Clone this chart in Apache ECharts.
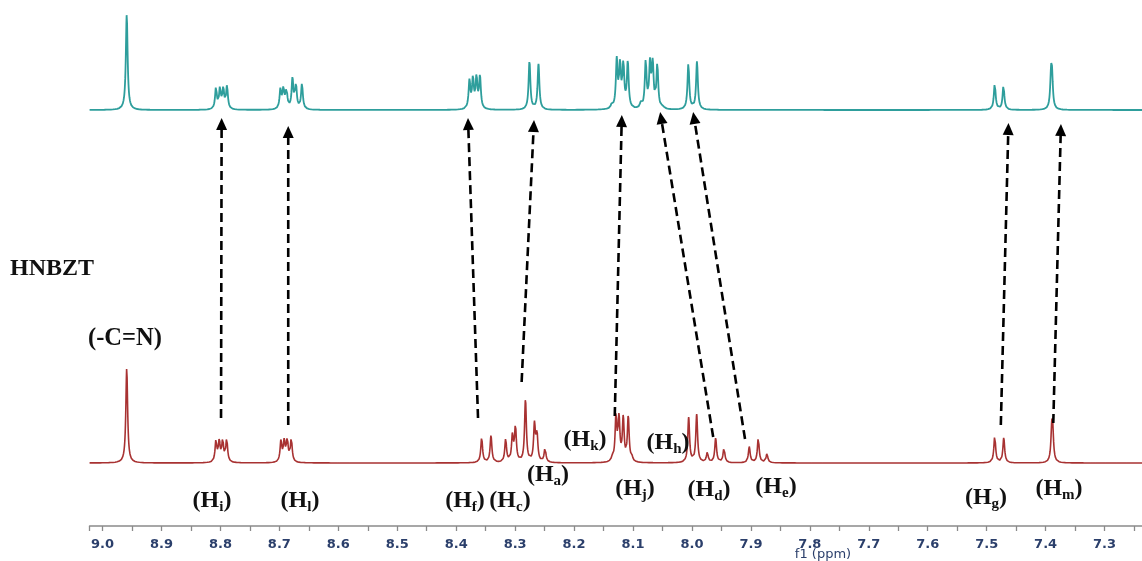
<!DOCTYPE html>
<html><head><meta charset="utf-8">
<script src="https://cdn.jsdelivr.net/npm/echarts@6/dist/echarts.min.js"></script>
<style>html,body{margin:0;padding:0;background:#fff}#c{width:1142px;height:561px}</style>
</head><body><div id="c"></div>
<script>
// ---------------- data ----------------
const ppmLeft = 9.022;          // left end of the plotted window
const ppmRight = 7.2;           // axis min (right end, just outside the canvas)
const tickLabels = ['9.0','8.9','8.8','8.7','8.6','8.5','8.4','8.3','8.2','8.1','8.0','7.9','7.8','7.7','7.6','7.5','7.4','7.3'];

// upper (teal) spectrum: [ppm, intensity]
const topPeaks = [
  [8.959, 96],
  [8.8076, 21.5],[8.8008, 20.5],[8.7952, 20],[8.7889, 23],
  [8.6982, 19.5],[8.6931, 20],[8.6880, 19],[8.6778, 30],[8.6719, 23.5],[8.6617, 25.5],
  [8.3775, 28],[8.3716, 30],[8.3656, 31],[8.3597, 32],
  [8.2757, 48.5],[8.2604, 45.5],
  [8.1360, 4],[8.1276, 48],[8.1220, 43],[8.1164, 43],[8.1089, 46],
  [8.0870, 5],[8.0785, 47],[8.0712, 43],[8.0666, 43],[8.0588, 44],[8.0500, 3],
  [8.0061, 46],[7.9915, 48],
  [7.4863, 26.5],[7.4715, 24.5],
  [7.3908, 28.5],[7.3892, 28.5]
];

// lower (dark red) spectrum, HNBZT: [ppm, intensity]
const bottomPeaks = [
  [8.959, 95],
  [8.8076, 21.5],[8.8020, 20.5],[8.7962, 21.5],[8.7894, 23.5],
  [8.6973, 21.5],[8.6917, 20.5],[8.6866, 22],[8.6798, 23.5],
  [8.3568, 25],[8.3410, 27],
  [8.3161, 23],[8.3046, 26],[8.2995, 35],[8.2825, 63],[8.2672, 37],[8.2630, 27],[8.2493, 14.5],
  [8.1350, 4],[8.1289, 45],[8.1238, 42],[8.1166, 43],[8.1081, 45],[8.1020, 4],
  [8.0056, 45],[7.9920, 48],[7.9740, 10],[7.9598, 24.5],[7.9457, 15],
  [7.9028, 16],[7.8875, 25],[7.8728, 9],
  [7.4863, 27],[7.4710, 25],
  [7.3896, 27],[7.3880, 27]
];

// correlation arrows: [ppm at lower trace, ppm at upper trace]
const arrowPpm = [
  [8.799, 8.798],[8.685, 8.685],[8.363, 8.380],[8.289, 8.268],[8.131, 8.119],
  [7.964, 8.054],[7.910, 7.998],[7.476, 7.463],[7.387, 7.374]
];

// assignment labels
const labelSubs = ['i','l','f','c','a','k','h','j','d','e','g','m'];
const sampleName = 'HNBZT';
const groupLabel = '(-C=N)';
const axisTitle = 'f1 (ppm)';

// ---------------- layout (pixels) ----------------
const arrowY = [[418,118],[425,126],[418,118],[382,120],[416,115],[437,112],[439,112],[425,123],[423,124]];
const labelPos = [[212,501],[300,501],[465,501],[510,501],[548,475],[585,440],[668,443],[635,489],[709,490],[776,487],[986,498],[1059,489]];

// ---------------- build traces ----------------
const HW = 0.0018;
function trace(peaks){
  const xs = [];
  for (let x = ppmLeft; x >= ppmRight; x -= 0.0004) xs.push(+x.toFixed(5));
  peaks.forEach(p => xs.push(p[0]));
  xs.sort((a,b)=>b-a);
  return xs.map(x => {
    let y = 0;
    for (const [p,h] of peaks){ const d = (x-p)/HW; y += h/(1+d*d); }
    return [x, y];
  });
}

const chart = echarts.init(document.getElementById('c'), null, {renderer:'canvas'});
const gridLeft = 89.6, gridWidth = 1073.9;
const xBase = {type:'value', min: ppmRight, max: ppmLeft, inverse: true, interval: 0.05};
const labelColor = '#2b3f6b';

chart.setOption({
  animation: false,
  backgroundColor: '#ffffff',
  grid: [
    {left: gridLeft, width: gridWidth, top: 10, height: 100, containLabel:false, outerBoundsMode:'none'},
    {left: gridLeft, width: gridWidth, top: 363, height: 100, containLabel:false, outerBoundsMode:'none'}
  ],
  xAxis: [
    Object.assign({}, xBase, {gridIndex:0, show:false}),
    Object.assign({}, xBase, {
      gridIndex:1, position:'bottom', offset: 63,
      axisLine:{show:true, onZero:false, lineStyle:{color:'#8a8a8a', width:1.6}},
      axisTick:{show:true, length:5, inside:false, lineStyle:{color:'#8a8a8a', width:1.3}},
      splitLine:{show:false},
      axisLabel:{
        margin: 12, color: labelColor, fontFamily:'DejaVu Sans', fontWeight:'bold', fontSize:13,
        formatter: v => { const s = (Math.round(v*100)/100).toFixed(1); return (Math.abs(v*10-Math.round(v*10))<1e-6 && tickLabels.includes(s)) ? s : ''; }
      }
    })
  ],
  yAxis: [
    {gridIndex:0, type:'value', min:0, max:100, show:false},
    {gridIndex:1, type:'value', min:0, max:100, show:false}
  ],
  series: [
    {type:'line', xAxisIndex:0, yAxisIndex:0, data: trace(topPeaks), showSymbol:false, symbol:'none', clip:false,
     lineStyle:{color:'#2e9e9c', width:1.8}},
    {type:'line', xAxisIndex:1, yAxisIndex:1, data: trace(bottomPeaks), showSymbol:false, symbol:'none', clip:false,
     lineStyle:{color:'#a83232', width:1.6}}
  ]
});

// ---------------- annotations ----------------
const g = [];
arrowPpm.forEach((pr, i) => {
  const xb = chart.convertToPixel({xAxisIndex:1}, pr[0]);
  const xt = chart.convertToPixel({xAxisIndex:1}, pr[1]);
  const yb = arrowY[i][0], yt = arrowY[i][1];
  const dx = xt-xb, dy = yt-yb, L = Math.hypot(dx,dy), ux = dx/L, uy = dy/L;
  const hl = 12, hw = 5.5;
  const bx = xt-ux*hl, by = yt-uy*hl;
  g.push({type:'line', shape:{x1:xb, y1:yb, x2:bx, y2:by}, style:{stroke:'#000', lineWidth:2.6, lineDash:[9,5]}, z:10});
  g.push({type:'polygon', shape:{points:[[xt,yt],[bx-uy*hw, by+ux*hw],[bx+uy*hw, by-ux*hw]]}, style:{fill:'#000'}, z:10});
});
const rich = {
  m:{fontFamily:'Liberation Serif', fontWeight:'bold', fontSize:24, lineHeight:28, fill:'#111'},
  s:{fontFamily:'Liberation Serif', fontWeight:'bold', fontSize:15, lineHeight:13, verticalAlign:'bottom', fill:'#111'}
};
labelSubs.forEach((s,i)=>{
  g.push({type:'text', x:labelPos[i][0], y:labelPos[i][1], z:11,
    style:{text:'{m|(H}{s|'+s+'}{m|)}', rich: rich, align:'center', verticalAlign:'middle'}});
});
g.push({type:'text', x:10, y:269, z:11, style:{text:sampleName, fontFamily:'Liberation Serif', fontWeight:'bold', fontSize:24, fill:'#111', align:'left', verticalAlign:'middle'}});
g.push({type:'text', x:88, y:339, z:11, style:{text:groupLabel, fontFamily:'Liberation Serif', fontWeight:'bold', fontSize:24.5, fill:'#111', align:'left', verticalAlign:'middle'}});
g.push({type:'text', x:823, y:555, z:11, style:{text:axisTitle, fontFamily:'DejaVu Sans', fontSize:13, fill:labelColor, align:'center', verticalAlign:'middle'}});
chart.setOption({graphic: g});
</script>
</body></html>
